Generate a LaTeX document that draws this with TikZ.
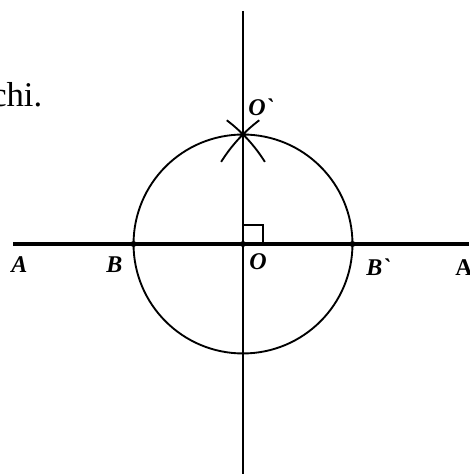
\documentclass[tikz,border=0pt]{standalone}
\usepackage{fontspec}
\setmainfont{Liberation Serif}
\begin{document}
\begin{tikzpicture}[x=0.75pt,y=0.75pt,
  lbl/.style={inner sep=0pt,anchor=base west,font=\fontsize{18}{20}\selectfont\bfseries\itshape},
  dot/.style={circle,fill=black,inner sep=0pt,minimum size=4.5pt},
  thin line/.style={line width=1.4pt},
  thick line/.style={line width=3pt}]
\useasboundingbox (0,0) rectangle (469,474);
\clip (0,0) rectangle (469,474);
% key points
\coordinate (L) at (13,230);
\coordinate (R) at (469,230);
\coordinate (T) at (243,463);
\coordinate (D) at (243,0);
\node[dot] (O) at (243,230) {};
\node[dot] (B) at (133.5,230) {};
\node[dot] (Bp) at (352.5,230) {};
\node[dot] (Op) at (243,339.5) {};
% lines
\draw[thick line] (L) -- (R);
\draw[thin line] (T) -- (D);
\draw[thin line] (O.center) circle[radius=82.1pt];
% construction arcs
\draw[thin line] (B.center) ++(53:116.2pt) arc[start angle=53,end angle=32,radius=116.2pt];
\draw[thin line] (Bp.center) ++(127:116.2pt) arc[start angle=127,end angle=148,radius=116.2pt];
% right angle
\draw[line width=1.1pt] (263,230) -- (263,249) -- (243,249);
% labels
\node[lbl] (lA) at (11,201) {A};
\node[lbl] (lB) at (106,201) {B};
\node[lbl] (lO) at (249,204.5) {O};
\node[lbl] (lBp) at (366,198) {B\textasciigrave};
\node[lbl,font=\fontsize{18}{20}\selectfont\bfseries] (lA2) at (455,198) {A};
\node[lbl] (lOp) at (248,358) {O\textasciigrave};
\node[inner sep=0pt,anchor=base west,font=\fontsize{26}{30}\selectfont] (txt) at (-9,367.3) {chi.};
\end{tikzpicture}
\end{document}
